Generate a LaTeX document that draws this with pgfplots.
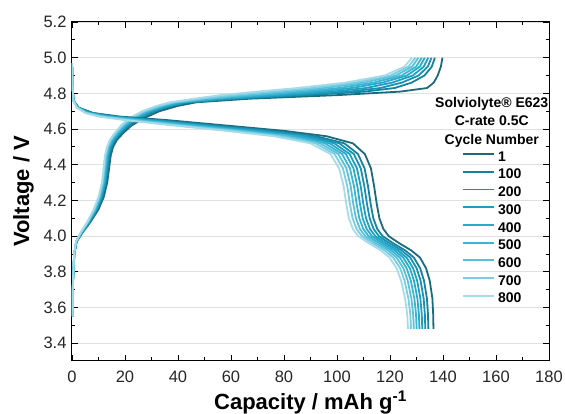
\documentclass[border=0pt]{standalone}
\usepackage{pgfplots}
\pgfplotsset{compat=1.18}
\usepackage{pgfplotstable}
\usepackage{fontspec}
\setmainfont{Liberation Sans}

\definecolor{k1}{HTML}{1B6B7D}
\definecolor{k100}{HTML}{16829E}
\definecolor{k200}{HTML}{1892B3}
\definecolor{k300}{HTML}{1E9FC2}
\definecolor{k400}{HTML}{2AAACB}
\definecolor{k500}{HTML}{3BB5D3}
\definecolor{k600}{HTML}{58C1DB}
\definecolor{k700}{HTML}{7CCDE2}
\definecolor{k800}{HTML}{A6DCE9}

% charge: voltage grid, capacity per cycle
\pgfplotstableread{
V    c1    c100   c200   c300   c400   c500   c600   c700   c800
3.55 0.2   0.2    0.2    0.2    0.2    0.2    0.2    0.2    0.2
3.75 0.4   0.39   0.38   0.38   0.37   0.37   0.36   0.36   0.35
3.90 0.9   0.88   0.86   0.85   0.84   0.83   0.82   0.81   0.8
3.97 1.8   1.73   1.69   1.66   1.63   1.6    1.56   1.53   1.5
4.02 4.0   3.83   3.75   3.67   3.59   3.52   3.45   3.38   3.3
4.08 7.0   6.7    6.57   6.44   6.3    6.18   6.05   5.93   5.8
4.15 10.0  9.55   9.35   9.15   8.96   8.78   8.58   8.4    8.2
4.22 12.0  11.5   11.28  11.06  10.84  10.64  10.42  10.22  10.0
4.30 13.3  12.8   12.58  12.36  12.14  11.94  11.72  11.52  11.3
4.38 14.0  13.48  13.24  13.01  12.78  12.57  12.34  12.13  11.9
4.45 14.6  14.05  13.81  13.57  13.32  13.1   12.86  12.64  12.4
4.50 15.5  14.93  14.67  14.42  14.17  13.94  13.68  13.45  13.2
4.54 17.0  16.33  16.03  15.73  15.43  15.16  14.87  14.6   14.3
4.58 19.5  18.68  18.31  17.95  17.59  17.26  16.89  16.56  16.2
4.62 22.5  21.5   21.06  20.62  20.18  19.78  19.34  18.94  18.5
4.66 27.0  25.63  25.02  24.42  23.81  23.26  22.66  22.1   21.5
4.70 33.0  31.38  30.66  29.95  29.23  28.58  27.87  27.22  26.5
4.73 40.0  38.0   37.12  36.24  35.36  34.56  33.68  32.88  32.0
4.75 47.0  44.5   43.4   42.3   41.2   40.2   39.1   38.1   37.0
4.77 67.0  61.75  59.44  57.13  54.82  52.72  50.41  48.31  46.0
4.79 100.0 89.0   84.16  79.32  74.48  70.08  65.24  60.84  56.0
4.81 124.0 110.5  104.56 98.62  92.68  87.28  81.34  75.94  70.0
4.83 134.0 121.75 116.36 110.97 105.58 100.68 95.29  90.39  85.0
4.86 136.5 128.13 124.44 120.76 117.07 113.72 110.04 106.69 103.0
4.90 138.0 133.0  130.8  128.6  126.4  124.4  122.2  120.2  118.0
4.95 139.2 135.78 134.27 132.76 131.25 129.88 128.38 127.0  125.5
5.00 139.8 136.93 135.66 134.4  133.13 131.98 130.72 129.57 128.3
}\charge

% discharge: voltage grid, capacity per cycle
\pgfplotstableread{
V    c1    c100   c200   c300   c400   c500   c600   c700   c800
4.97 0     0      0      0      0      0      0      0      0
4.85 0.2   0.2    0.2    0.2    0.2    0.2    0.2    0.2    0.2
4.76 0.6   0.58   0.57   0.56   0.55   0.53   0.52   0.51   0.5
4.72 2.5   2.36   2.28   2.19   2.12   2.04   1.96   1.88   1.8
4.69 8     7.4    7.04   6.68   6.35   6.02   5.69   5.36   5
4.67 18    16.4   15.44  14.48  13.6   12.72  11.84  10.96  10
4.65 36    32.8   30.88  28.96  27.2   25.44  23.68  21.92  20
4.62 58    54     51.6   49.2   47     44.8   42.6   40.4   38
4.59 80    75.6   72.96  70.32  67.9   65.48  63.06  60.64  58
4.56 96    92     89.6   87.2   85     82.8   80.6   78.4   76
4.52 106   102.8  100.88 98.96  97.2   95.44  93.68  91.92  90
4.46 110.5 107.9  106.34 104.78 103.35 101.92 100.49 99.06  97.5
4.38 112.8 110.4  108.96 107.52 106.2  104.88 103.56 102.24 100.8
4.28 114   111.7  110.32 108.94 107.68 106.41 105.15 103.88 102.5
4.18 115   112.7  111.32 109.94 108.68 107.41 106.15 104.88 103.5
4.10 116   113.7  112.32 110.94 109.68 108.41 107.15 105.88 104.5
4.04 117.5 115.2  113.82 112.44 111.18 109.91 108.65 107.38 106
4.00 119.5 117.2  115.82 114.44 113.18 111.91 110.65 109.38 108
3.96 123.5 121.2  119.82 118.44 117.18 115.91 114.65 113.38 112
3.92 128   125.7  124.32 122.94 121.68 120.41 119.15 117.88 116.5
3.88 131.3 129.0  127.62 126.24 124.98 123.71 122.45 121.18 119.8
3.82 133.6 131.38 130.05 128.72 127.5  126.27 125.05 123.83 122.5
3.75 135   132.84 131.54 130.25 129.06 127.87 126.68 125.5  124.2
3.65 136   133.94 132.7  131.47 130.34 129.2  128.07 126.94 125.7
3.56 136.3 134.34 133.16 131.99 130.91 129.83 128.75 127.68 126.5
3.48 136.4 134.48 133.33 132.18 131.12 130.06 129.0  127.95 126.8
}\discharge

\begin{document}
\begin{tikzpicture}
\begin{axis}[
  scale only axis, width=477pt, height=339pt,
  xmin=0, xmax=180, ymin=3.3, ymax=5.2,
  xtick={0,20,40,60,80,100,120,140,160,180}, minor x tick num=1,
  ytick={3.4,3.6,3.8,4.0,4.2,4.4,4.6,4.8,5.0,5.2}, minor y tick num=1,
  tick pos=both, tick align=inside,
  major tick length=6pt, minor tick length=3.5pt,
  every tick/.style={black, line width=0.8pt},
  axis line style={line width=1pt, black},
  ymajorgrids, grid style={black!12, line width=0.6pt},
  /pgf/number format/assume math mode=true,
  tick label style={font=\fontsize{16.5}{18}\selectfont, color=black!85},
  xticklabel style={yshift=-6pt},
  yticklabel style={xshift=-2pt, /pgf/number format/.cd, fixed, fixed zerofill, precision=1},
  xlabel={Capacity / mAh g\textsuperscript{-1}},
  ylabel={Voltage / V},
  label style={font=\bfseries\fontsize{22}{24}\selectfont},
  xlabel style={yshift=-2pt},
  ylabel style={yshift=3pt},
  legend cell align=left,
  legend style={draw=none, fill=none, at={(axis cs:147.06,4.481)}, anchor=north west,
    inner sep=0pt, outer sep=0pt, row sep=0pt, column sep=3pt,
    font=\bfseries\fontsize{14}{16}\selectfont,
    nodes={inner sep=0pt, text height=11pt, text depth=6.7pt}},
  legend image code/.code={\draw[#1] (0pt,5pt) -- (31.6pt,5pt);},
  every axis plot/.append style={line width=1.8pt, line join=round},
]
\addplot[k1]   table[x=c1,   y=V] {\charge};
\addplot[k100] table[x=c100, y=V] {\charge};
\addplot[k200] table[x=c200, y=V] {\charge};
\addplot[k300] table[x=c300, y=V] {\charge};
\addplot[k400] table[x=c400, y=V] {\charge};
\addplot[k500] table[x=c500, y=V] {\charge};
\addplot[k600] table[x=c600, y=V] {\charge};
\addplot[k700] table[x=c700, y=V] {\charge};
\addplot[k800] table[x=c800, y=V] {\charge};
\legend{1,100,200,300,400,500,600,700,800}
\addplot[k1,   forget plot] table[x=c1,   y=V] {\discharge};
\addplot[k100, forget plot] table[x=c100, y=V] {\discharge};
\addplot[k200, forget plot] table[x=c200, y=V] {\discharge};
\addplot[k300, forget plot] table[x=c300, y=V] {\discharge};
\addplot[k400, forget plot] table[x=c400, y=V] {\discharge};
\addplot[k500, forget plot] table[x=c500, y=V] {\discharge};
\addplot[k600, forget plot] table[x=c600, y=V] {\discharge};
\addplot[k700, forget plot] table[x=c700, y=V] {\discharge};
\addplot[k800, forget plot] table[x=c800, y=V] {\discharge};
\node[align=center, font=\bfseries\fontsize{14}{18.5}\selectfont] at (axis cs:158.4,4.64)
  {Solviolyte® E623\\C-rate 0.5C\\Cycle Number};
\end{axis}
\pgfresetboundingbox
\path[use as bounding box] ([xshift=-72pt,yshift=-53pt]current axis.south west) rectangle ([xshift=16pt,yshift=22pt]current axis.north east);
\end{tikzpicture}
\end{document}
